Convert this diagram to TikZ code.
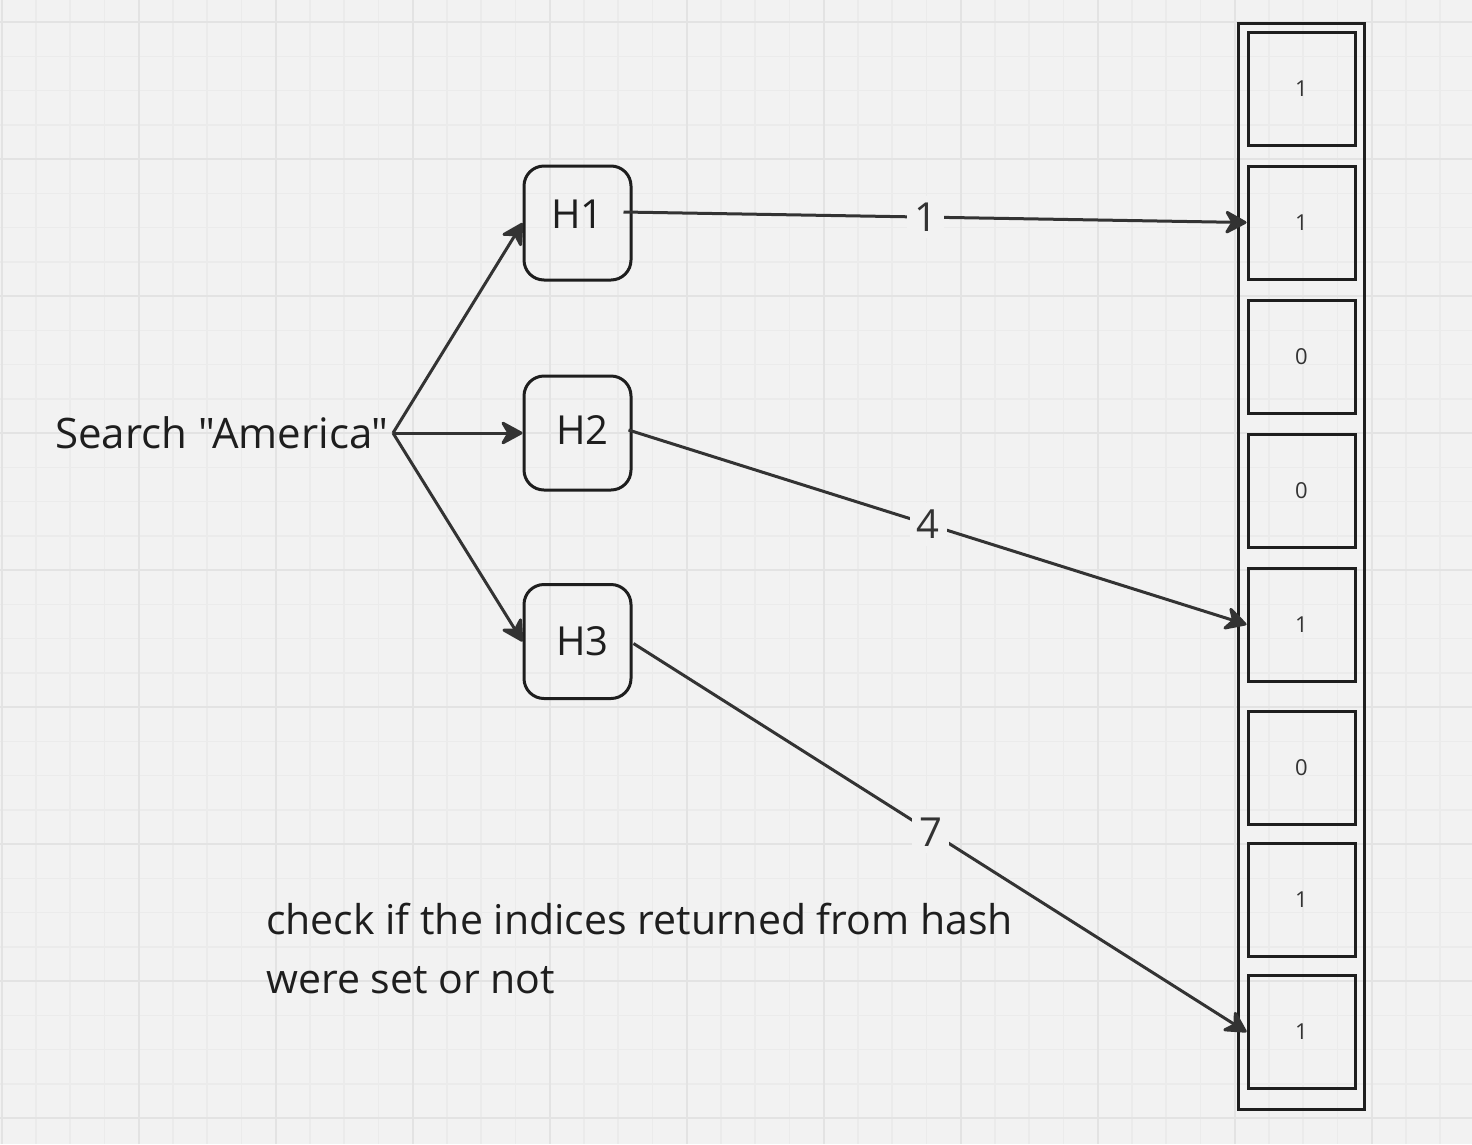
\documentclass[tikz,border=0pt]{standalone}
\usepackage{fontspec}
\setmainfont{Open Sans}[Ligatures=TeXOff]
\usetikzlibrary{positioning}
\usetikzlibrary{arrows.meta}

\definecolor{paper}{HTML}{F2F2F2}
\definecolor{minorline}{HTML}{EBEBEB}
\definecolor{majorline}{HTML}{E3E3E3}
\definecolor{ink}{HTML}{1E1E1E}
\definecolor{wire}{HTML}{333333}

\tikzset{
  hashbox/.style={draw=ink, line width=3pt, rounded corners=20pt, minimum width=107pt, minimum height=114pt, inner sep=0pt},
  hashtext/.style={inner sep=0pt, text=ink, font=\fontsize{40}{48}\selectfont},
  bitcell/.style={draw=ink, line width=3pt, minimum width=107pt, minimum height=113pt, inner sep=0pt, text=wire, font=\fontsize{22}{26}\selectfont},
  feed/.style={draw=wire, line width=3pt, -{Stealth[length=25pt,width=27pt,inset=8pt,round]}},
  idx/.style={fill=paper, inner sep=7pt, pos=0.485, text=wire, font=\fontsize{40}{48}\selectfont},
}

\begin{document}
\begin{tikzpicture}[x=1pt,y=-1pt]
 \useasboundingbox (0,0) rectangle (1472,1144);
 \fill[paper] (0,0) rectangle (1472,1144);
 % grid
 \foreach \i in {0,...,42} \draw[minorline, line width=1.5pt] ({1.7+34.25*\i},0) -- ++(0,1144);
 \foreach \j in {0,...,32} \draw[minorline, line width=1.5pt] (0,{22+34.25*\j}) -- ++(1472,0);
 \foreach \i in {0,...,10} \draw[majorline, line width=2pt] ({1.7+137*\i},0) -- ++(0,1144);
 \foreach \j in {0,...,8} \draw[majorline, line width=2pt] (0,{22+137*\j}) -- ++(1472,0);

 % bit array
 \node[draw=ink, line width=3pt, minimum width=126pt, minimum height=1086pt, inner sep=0pt] (bits) at (1301.5,566) {};
 \foreach \y/\b [count=\n] in {89/1,222.5/1,357/0,490.5/0,624.5/1,767.5/0,900/1,1032/1}
   \node[bitcell] (cell\n) at (1301.5,\y) {\b};

 % hash functions
 \node[hashbox, label={[hashtext, yshift=9pt]center:H1}] (h1) at (577.5,223) {};
 \node[hashbox, label={[hashtext, xshift=5pt, yshift=3pt]center:H2}] (h2) at (577.5,433) {};
 \node[hashbox, label={[hashtext, xshift=5pt]center:H3}] (h3) at (577.5,641.5) {};

 \node[anchor=east, inner sep=4pt, text=ink, font=\fontsize{42}{50}\selectfont] (search) at (393,433) {Search "America"};

 \draw[feed] (search.east) -- (h1.west);
 \draw[feed] (search.east) -- (h2.west);
 \draw[feed] (search.east) -- (h3.west);

 \draw[feed] ([shift={(-9,-11)}]h1.east) -- node[idx] {1} (cell2.west);
 \draw[feed] ([shift={(-4,-3)}]h2.east) -- node[idx] {4} (cell5.west);
 \draw[feed] ([shift={(1,2)}]h3.east) -- node[idx] {7} (cell8.west);

 \node[anchor=north west, align=left, inner sep=0pt, text=ink, font=\fontsize{41}{59}\selectfont] (note) at (266,903) {check if the indices returned from hash\\were set or not};
\end{tikzpicture}
\end{document}
